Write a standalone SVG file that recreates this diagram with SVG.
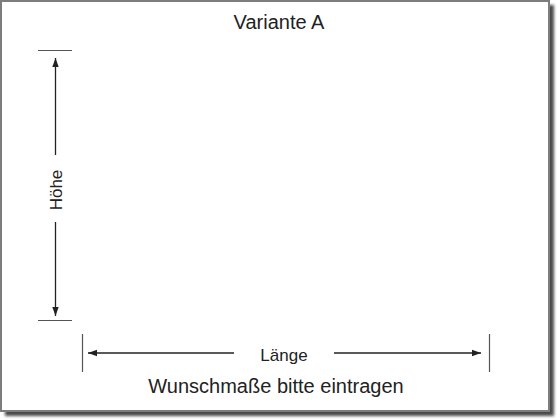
<svg xmlns="http://www.w3.org/2000/svg" width="560" height="420" viewBox="0 0 560 420">
  <defs>
    <filter id="blur" x="-5%" y="-5%" width="110%" height="110%">
      <feGaussianBlur stdDeviation="1.6"/>
    </filter>
    <marker id="arr" markerWidth="10" markerHeight="8" refX="9" refY="4" orient="auto-start-reverse" markerUnits="userSpaceOnUse">
      <path d="M0,0.8 L9,4 L0,7.2 Z" fill="#222"/>
    </marker>
  </defs>
  <style>
    .txt { font-family: "Liberation Sans", Arial, sans-serif; fill: #222; text-anchor: middle; }
    .tick { stroke: #555; stroke-width: 1.2; fill: none; }
    .dim { stroke: #222; stroke-width: 1.3; fill: none; }
  </style>
  <rect width="560" height="420" fill="#ffffff"/>
  <g id="frame">
    <rect x="5" y="5" width="549" height="411" fill="#4a4a4a" filter="url(#blur)"/>
    <rect x="1" y="1" width="548" height="410" fill="#ffffff" stroke="#7d7d7d" stroke-width="2"/>
  </g>
  <g id="title">
    <text class="txt" x="279" y="29" font-size="20">Variante A</text>
  </g>
  <g id="connectors">
    <line class="tick" x1="38" y1="50.5" x2="72" y2="50.5"/>
    <line class="tick" x1="38" y1="320.5" x2="72" y2="320.5"/>
    <line class="tick" x1="82.5" y1="334" x2="82.5" y2="372"/>
    <line class="tick" x1="489.5" y1="334" x2="489.5" y2="372"/>
    <line class="dim" x1="55.5" y1="155" x2="55.5" y2="58" marker-end="url(#arr)"/>
    <line class="dim" x1="55.5" y1="222" x2="55.5" y2="316" marker-end="url(#arr)"/>
    <line class="dim" x1="234" y1="353" x2="88" y2="353" marker-end="url(#arr)"/>
    <line class="dim" x1="334" y1="353" x2="481" y2="353" marker-end="url(#arr)"/>
  </g>
  <g id="hoehe">
    <text class="txt" x="0" y="0" font-size="17" transform="translate(62,190) rotate(-90)">Höhe</text>
  </g>
  <g id="laenge">
    <text class="txt" x="284" y="360.5" font-size="17">Länge</text>
  </g>
  <g id="hinweis">
    <text class="txt" x="276" y="393" font-size="20">Wunschmaße bitte eintragen</text>
  </g>
</svg>
